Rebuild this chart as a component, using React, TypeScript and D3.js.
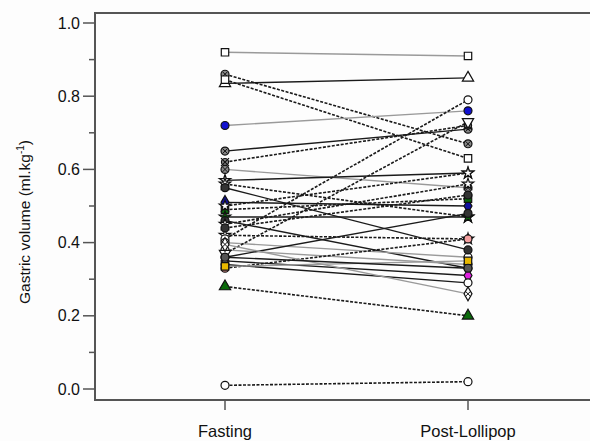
import * as d3 from 'd3';
import { useEffect, useRef } from 'react';

// paired gastric volumes, one entry per subject
const fasting = [0.92, 0.86, 0.835, 0.845, 0.72, 0.65, 0.62, 0.60, 0.57, 0.56, 0.51, 0.49, 0.47, 0.46, 0.45, 0.42, 0.41, 0.40, 0.38, 0.37, 0.36, 0.35, 0.34, 0.33, 0.335, 0.28, 0.01, 0.395, 0.50, 0.55, 0.44, 0.36];
const post = [0.91, 0.67, 0.85, 0.63, 0.76, 0.71, 0.72, 0.55, 0.59, 0.47, 0.50, 0.52, 0.47, 0.33, 0.56, 0.41, 0.79, 0.36, 0.34, 0.73, 0.48, 0.31, 0.29, 0.41, 0.35, 0.20, 0.02, 0.26, 0.59, 0.38, 0.53, 0.33];
const markers = ['square', 'crosscircle', 'triangle', 'square', 'circle', 'crosscircle', 'xmark', 'crosscircle', 'star', 'star', 'diamond', 'square', 'star', 'circle', 'star', 'star', 'circle', 'circle', 'circle', 'triangledown', 'circle', 'diamond', 'circle', 'circle', 'square', 'triangle', 'circle', 'crossdiamond', 'star', 'circle', 'circle', 'circle'];
const fills = ['#fff', '#888', '#fff', '#fff', '#1010d0', '#888', '#888', '#888', '#fff', '#fff', '#1010a0', '#0a6a0a', '#0a6a0a', '#333', '#fff', '#fff', '#fff', '#fff', '#fff', '#fff', '#333', '#e020e0', '#fff', '#f4a0a0', '#e8b800', '#0a6a0a', '#fff', '#fff', '#fff', '#333', '#333', '#555'];
const lineStyles = ['gray', 'dash', 'solid', 'dash', 'gray', 'solid', 'dash', 'gray', 'solid', 'dash', 'solid', 'dash', 'solid', 'solid', 'dash', 'dash', 'dash', 'gray', 'gray', 'dash', 'solid', 'solid', 'solid', 'dash', 'gray', 'dash', 'dash', 'gray', 'dash', 'solid', 'dash', 'solid'];
const groups = ['Fasting', 'Post-Lollipop'];
const yTicks = [0, 0.2, 0.4, 0.6, 0.8, 1.0];

const symbolFor = (name: string) => {
  const size = 55;
  switch (name) {
    case 'square': return d3.symbol(d3.symbolSquare, size)();
    case 'triangle': return d3.symbol(d3.symbolTriangle, size)();
    case 'diamond': return d3.symbol(d3.symbolDiamond, size)();
    case 'star': return d3.symbol(d3.symbolStar, 40)();
    case 'triangledown': return d3.symbol(d3.symbolTriangle, size)();
    default: return d3.symbol(d3.symbolCircle, 50)();
  }
};

export default function App() {
  const ref = useRef<SVGSVGElement>(null);

  useEffect(() => {
    const width = 590;
    const height = 441;
    const svg = d3.select(ref.current);
    svg.selectAll('*').remove();

    const left = 95, top = 13, bottom = 400;
    const y = d3.scaleLinear().domain([0, 1]).range([389, 23]);
    const x = d3.scalePoint().domain(groups).range([225, 468]);

    svg.attr('width', width).attr('height', height);
    svg.append('rect').attr('width', width).attr('height', height).attr('fill', '#fdfdfd');

    const font = 'Liberation Sans, Arial, sans-serif';

    // frame
    svg.append('path')
      .attr('d', `M${width},${top}H${left}V${bottom}H${width}`)
      .attr('fill', 'none').attr('stroke', '#555').attr('stroke-width', 2);

    // y ticks
    const minor = d3.range(0.1, 1, 0.2);
    svg.selectAll('line.minor').data(minor).enter().append('line')
      .attr('x1', 89).attr('x2', left).attr('y1', d => y(d)).attr('y2', d => y(d))
      .attr('stroke', '#555').attr('stroke-width', 1.5);
    svg.selectAll('line.major').data(yTicks).enter().append('line')
      .attr('x1', 83).attr('x2', left).attr('y1', d => y(d)).attr('y2', d => y(d))
      .attr('stroke', '#555').attr('stroke-width', 1.5);
    svg.selectAll('text.ytick').data(yTicks).enter().append('text')
      .attr('x', 80).attr('y', d => y(d) + 5.5)
      .attr('text-anchor', 'end').attr('font-family', font).attr('font-size', 16)
      .attr('fill', '#111').text(d => d.toFixed(1));

    // x ticks
    svg.selectAll('line.xtick').data(groups).enter().append('line')
      .attr('x1', d => x(d)!).attr('x2', d => x(d)!).attr('y1', bottom).attr('y2', 410)
      .attr('stroke', '#555').attr('stroke-width', 1.5);
    svg.selectAll('text.xlab').data(groups).enter().append('text')
      .attr('x', d => x(d)!).attr('y', 437)
      .attr('text-anchor', 'middle').attr('font-family', font).attr('font-size', 16.5)
      .attr('fill', '#111').text(d => d);

    // y label
    const yl = svg.append('text')
      .attr('transform', 'translate(30,222) rotate(-90)')
      .attr('text-anchor', 'middle').attr('font-family', font).attr('font-size', 15.5)
      .attr('fill', '#111');
    yl.append('tspan').text('Gastric volume (ml.kg');
    yl.append('tspan').attr('font-size', 10).attr('dy', -6).text('-1');
    yl.append('tspan').attr('dy', 6).text(')');

    const idx = d3.range(fasting.length);

    // connecting lines
    svg.selectAll('line.pair').data(idx).enter().append('line')
      .attr('x1', x(groups[0])!).attr('x2', x(groups[1])!)
      .attr('y1', i => y(fasting[i])).attr('y2', i => y(post[i]))
      .attr('stroke', i => lineStyles[i] === 'gray' ? '#9a9a9a' : '#1a1a1a')
      .attr('stroke-width', i => lineStyles[i] === 'dash' ? 1.6 : 1.4)
      .attr('stroke-dasharray', i => lineStyles[i] === 'dash' ? '3,1.5' : null);

    // markers
    [fasting, post].forEach((vals, g) => {
      const gx = x(groups[g])!;
      idx.forEach(i => {
        const m = markers[i];
        const cy = y(vals[i]);
        const grp = svg.append('g').attr('transform', `translate(${gx},${cy})`);
        if (m === 'xmark') {
          grp.append('path').attr('d', d3.symbol(d3.symbolCircle, 40)())
            .attr('fill', fills[i]).attr('stroke', '#111').attr('stroke-width', 1.2);
          grp.append('path').attr('d', 'M-4,-4L4,4M-4,4L4,-4')
            .attr('stroke', '#111').attr('stroke-width', 1.2);
          return;
        }
        const path = grp.append('path')
          .attr('d', symbolFor(m))
          .attr('fill', fills[i]).attr('stroke', '#111').attr('stroke-width', 1.2);
        if (m === 'triangledown') path.attr('transform', 'rotate(180)');
        if (m === 'crossdiamond') path.attr('d', d3.symbol(d3.symbolDiamond, 55)());
        if (m === 'crosscircle' || m === 'crossdiamond') {
          grp.append('path').attr('d', 'M-2.6,-2.6L2.6,2.6M-2.6,2.6L2.6,-2.6')
            .attr('stroke', '#111').attr('stroke-width', 1);
        }
      });
    });

    return () => { svg.selectAll('*').remove(); };
  }, []);

  return <svg ref={ref} style={{ position: 'absolute', left: 0, top: 0 }} />;
}
